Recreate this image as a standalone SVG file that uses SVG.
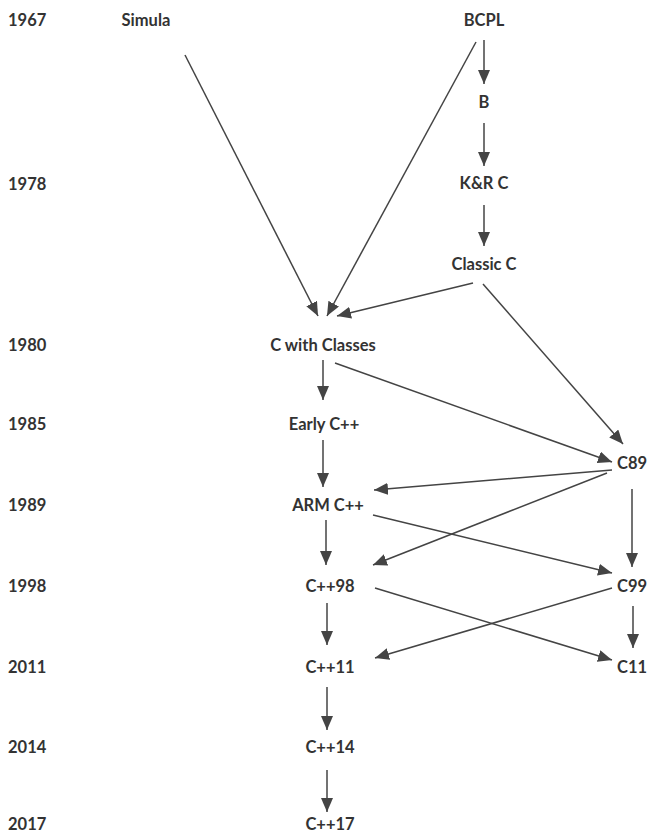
<svg xmlns="http://www.w3.org/2000/svg" width="650" height="834" viewBox="0 0 650 834">
<defs>
<marker id="ah" markerUnits="userSpaceOnUse" markerWidth="14" markerHeight="12" refX="14" refY="6" orient="auto">
<path d="M0,0 L14,6 L0,12 Z" fill="#444"/>
</marker>
<style>
text{font-family:Lato,"Open Sans","Liberation Sans",sans-serif;font-size:16.5px;font-weight:700;fill:#333;}
.n{text-anchor:middle;}
.c line{stroke:#444;stroke-width:1.5;marker-end:url(#ah);}
</style>
</defs>
<rect width="650" height="834" fill="#fff"/>
<g id="years">
<text x="8" y="26">1967</text>
<text x="8" y="190">1978</text>
<text x="8" y="351">1980</text>
<text x="8" y="430">1985</text>
<text x="8" y="511">1989</text>
<text x="8" y="592">1998</text>
<text x="8" y="673">2011</text>
<text x="8" y="753">2014</text>
<text x="8" y="830">2017</text>
</g>
<g id="simula"><text class="n" x="146" y="26">Simula</text></g>
<g id="bcpl"><text class="n" x="484" y="26">BCPL</text></g>
<g id="b"><text class="n" x="484" y="108">B</text></g>
<g id="krc"><text class="n" x="484" y="189">K&amp;R C</text></g>
<g id="classicc"><text class="n" x="484" y="270">Classic C</text></g>
<g id="cwc"><text class="n" x="323" y="351">C with Classes</text></g>
<g id="earlycpp"><text class="n" x="324" y="430">Early C++</text></g>
<g id="c89"><text class="n" x="632" y="469">C89</text></g>
<g id="armcpp"><text class="n" x="328" y="511">ARM C++</text></g>
<g id="cpp98"><text class="n" x="330" y="592">C++98</text></g>
<g id="c99"><text class="n" x="632" y="592">C99</text></g>
<g id="cpp11"><text class="n" x="330" y="673">C++11</text></g>
<g id="c11"><text class="n" x="632" y="673">C11</text></g>
<g id="cpp14"><text class="n" x="330" y="753">C++14</text></g>
<g id="cpp17"><text class="n" x="330" y="830">C++17</text></g>
<g id="connectors" class="c">
<line x1="484" y1="40" x2="484" y2="84"/>
<line x1="484" y1="123" x2="484" y2="166"/>
<line x1="484" y1="205" x2="484" y2="246"/>
<line x1="185" y1="55" x2="318" y2="316"/>
<line x1="476" y1="42" x2="327" y2="316"/>
<line x1="473" y1="283" x2="337" y2="316"/>
<line x1="483" y1="284" x2="623" y2="444"/>
<line x1="335" y1="363" x2="612" y2="462"/>
<line x1="323" y1="360" x2="323" y2="400"/>
<line x1="323" y1="440" x2="323" y2="487"/>
<line x1="612" y1="470" x2="374" y2="490"/>
<line x1="607" y1="473" x2="373" y2="565"/>
<line x1="373" y1="515" x2="612" y2="573"/>
<line x1="632" y1="489" x2="632" y2="567"/>
<line x1="326" y1="520" x2="326" y2="565"/>
<line x1="327" y1="603" x2="327" y2="645"/>
<line x1="612" y1="588" x2="375" y2="658"/>
<line x1="375" y1="588" x2="612" y2="660"/>
<line x1="633" y1="606" x2="633" y2="648"/>
<line x1="327" y1="687" x2="327" y2="730"/>
<line x1="327" y1="770" x2="327" y2="812"/>
</g>
</svg>
